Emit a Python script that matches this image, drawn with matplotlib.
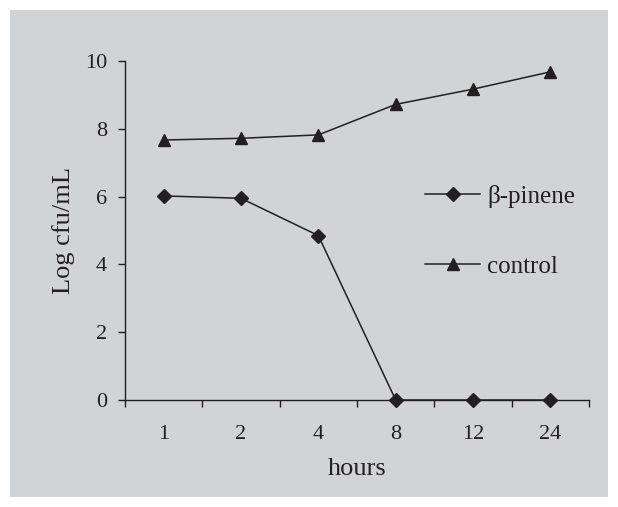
import matplotlib.pyplot as plt
import matplotlib.patches as mpatches
import numpy as np

hours = ['1', '2', '4', '8', '12', '24']
pinene = [6.02, 5.95, 4.85, 0, 0, 0]
control = [7.67, 7.72, 7.82, 8.72, 9.17, 9.68]

plt.rcParams['font.family'] = ['Liberation Serif', 'DejaVu Serif']
ink = '#231f20'
bg = '#d2d3d5'

fig = plt.figure(figsize=(6.18, 5.07), dpi=100, facecolor='white')
# gray panel behind the chart
fig.patches.append(mpatches.Rectangle((10 / 618, 10 / 507), 598 / 618, 487 / 507,
                                      transform=fig.transFigure, facecolor=bg,
                                      edgecolor='none', zorder=-10))

ax = fig.add_axes([125 / 618, 107 / 507, 464 / 618, 339 / 507])
ax.set_facecolor('none')

x = np.arange(len(hours)) + 0.5
ax.plot(x, pinene, color=ink, lw=1.1, marker='D', ms=7, clip_on=False, label='β-pinene')
ax.plot(x, control, color=ink, lw=1.1, marker='^', ms=9, clip_on=False, label='control')

ax.set_xlim(0, len(hours))
ax.set_ylim(0, 10)
ax.set_xticks(np.arange(len(hours) + 1))
ax.set_xticklabels([])
ax.set_xticks(x, minor=True)
ax.set_xticklabels(hours, minor=True)
ax.set_yticks([0, 2, 4, 6, 8, 10])
ax.tick_params(axis='x', which='major', direction='out', length=5, width=1, color=ink)
ax.tick_params(axis='x', which='minor', length=0, labelsize=16, labelcolor=ink, pad=18)
ax.tick_params(axis='y', direction='out', length=5, width=1, color=ink, labelsize=16,
               labelcolor=ink, pad=8)

for s in ['top', 'right']:
    ax.spines[s].set_visible(False)
for s in ['left', 'bottom']:
    ax.spines[s].set_color(ink)
    ax.spines[s].set_linewidth(1)

ax.set_xlabel('hours', fontsize=19, color=ink, labelpad=10)
ax.set_ylabel('Log cfu/mL', fontsize=19, color=ink, labelpad=7)

ax.legend(loc='upper left', bbox_to_anchor=(300 / 464, 1 - 124 / 339), frameon=False,
          fontsize=18, handlelength=2.2, handletextpad=0.3, labelspacing=1.9,
          borderpad=0, borderaxespad=0, labelcolor=ink)

fig.savefig('out.png', dpi=100, facecolor='white')
